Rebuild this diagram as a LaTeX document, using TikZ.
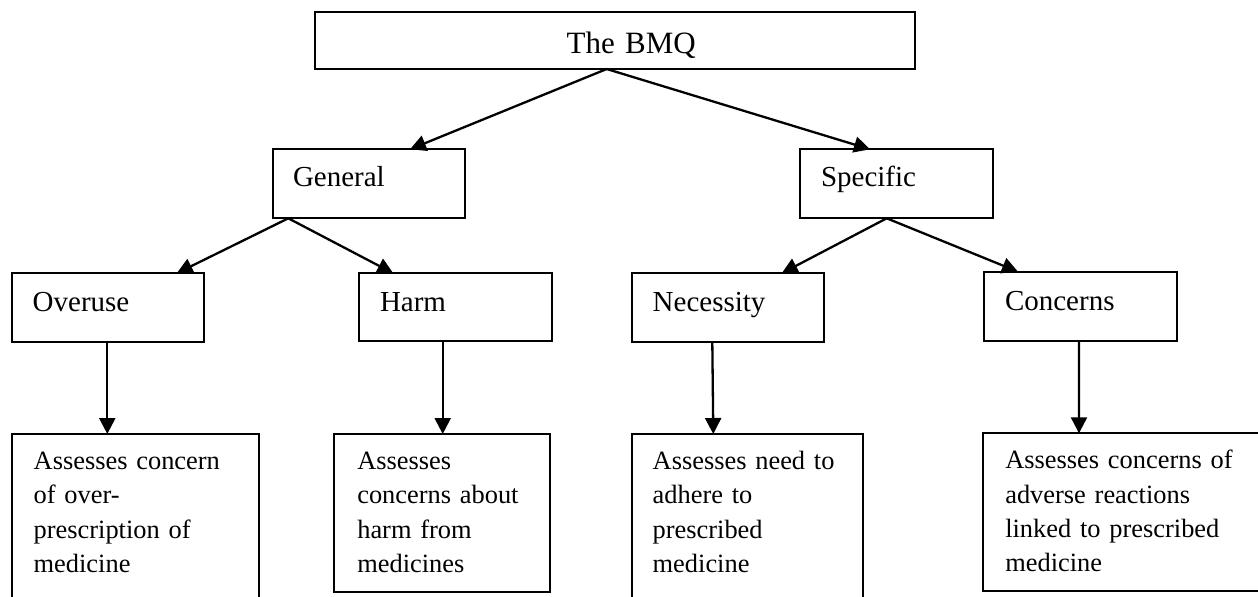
\documentclass[tikz,border=0pt]{standalone}
\usepackage{fontspec}
\setmainfont{Liberation Serif}
\usetikzlibrary{arrows.meta,calc}
\begin{document}
\begin{tikzpicture}[x=0.5pt,y=-0.5pt,
  box/.style={draw, line width=0.9pt, anchor=north west, inner ysep=0pt, outer sep=0pt, align=left},
  hdr/.style={box, font=\fontsize{14.5}{17}\selectfont},
  body/.style={box, font=\fontsize{13.2}{17.2}\selectfont},
  arr/.style={line width=1.15pt, -{Triangle[length=8pt,width=8pt]}}]
\path[use as bounding box, clip] (0,0) rectangle (1258,596);
% top
\node[box, font=\fontsize{15.5}{18}\selectfont, inner xsep=10pt, text width=280pt, text height=20.5pt, text depth=7.85pt] (bmq) at (315,12.3) {\hspace*{115.85pt}The BMQ};
% level 2
\node[hdr, inner xsep=10.15pt, text width=75.85pt, text height=18.7pt, text depth=15.8pt] (gen) at (272.7,149.3) {General};
\node[hdr, inner xsep=10.5pt, text width=75.35pt, text height=18.7pt, text depth=15.8pt] (spec) at (800,149.3) {Specific};
% level 3
\node[hdr, inner xsep=10.5pt, text width=75pt, text height=18.85pt, text depth=15.65pt] (over) at (11.7,273.3) {Overuse};
\node[hdr, inner xsep=10.5pt, text width=75.5pt, text height=18.85pt, text depth=15.15pt] (harm) at (359,273.3) {Harm};
\node[hdr, inner xsep=10.5pt, text width=75.3pt, text height=18.85pt, text depth=15.65pt] (nec) at (631.7,273.3) {Necessity};
\node[hdr, inner xsep=10.5pt, text width=75.35pt, text height=19.15pt, text depth=15.35pt] (conc) at (984,271.7) {Concerns};
% level 4
\node[body, inner xsep=11pt, text width=101.5pt, text height=17.65pt, text depth=75.35pt] (d1) at (11.7,434) {Assesses concern\\of over-\\prescription of\\medicine};
\node[body, inner xsep=11.5pt, text width=84.85pt, text height=17.65pt, text depth=61.2pt] (d2) at (334.3,434) {Assesses\\concerns about\\harm from\\medicines};
\node[body, inner xsep=10.5pt, text width=94.8pt, text height=17.65pt, text depth=75.35pt] (d3) at (631.7,434) {Assesses need to\\adhere to\\prescribed\\medicine};
\node[body, inner xsep=11pt, text width=131.35pt, text height=17.65pt, text depth=61.05pt] (d4) at (983.3,433.3) {Assesses concerns of\\adverse reactions\\linked to prescribed\\medicine};
% connectors
\draw[arr] ($(bmq.south west)+(291.7,0)$) -- ($(gen.north west)+(137.3,0)$);
\draw[arr] ($(bmq.south west)+(291.7,0)$) -- ($(spec.north west)+(70,0)$);
\draw[arr] ($(gen.south west)+(15.6,0)$) -- ($(over.north west)+(165,0)$);
\draw[arr] ($(gen.south west)+(15.6,0)$) -- ($(harm.north west)+(34.3,0)$);
\draw[arr] ($(spec.south west)+(86.7,0)$) -- ($(nec.north west)+(150,0)$);
\draw[arr] ($(spec.south west)+(86.7,0)$) -- ($(conc.north west)+(34,0)$);
\draw[arr] ($(over.south west)+(95.6,0)$) -- ($(d1.north west)+(95.6,0)$);
\draw[arr] ($(harm.south west)+(83.7,0)$) -- ($(d2.north west)+(108.4,0)$);
\draw[arr] ($(nec.south west)+(80.6,0)$) -- ($(d3.north west)+(81.6,0)$);
\draw[arr] ($(conc.south west)+(95,0)$) -- ($(d4.north west)+(95.7,0)$);
\end{tikzpicture}
\end{document}
